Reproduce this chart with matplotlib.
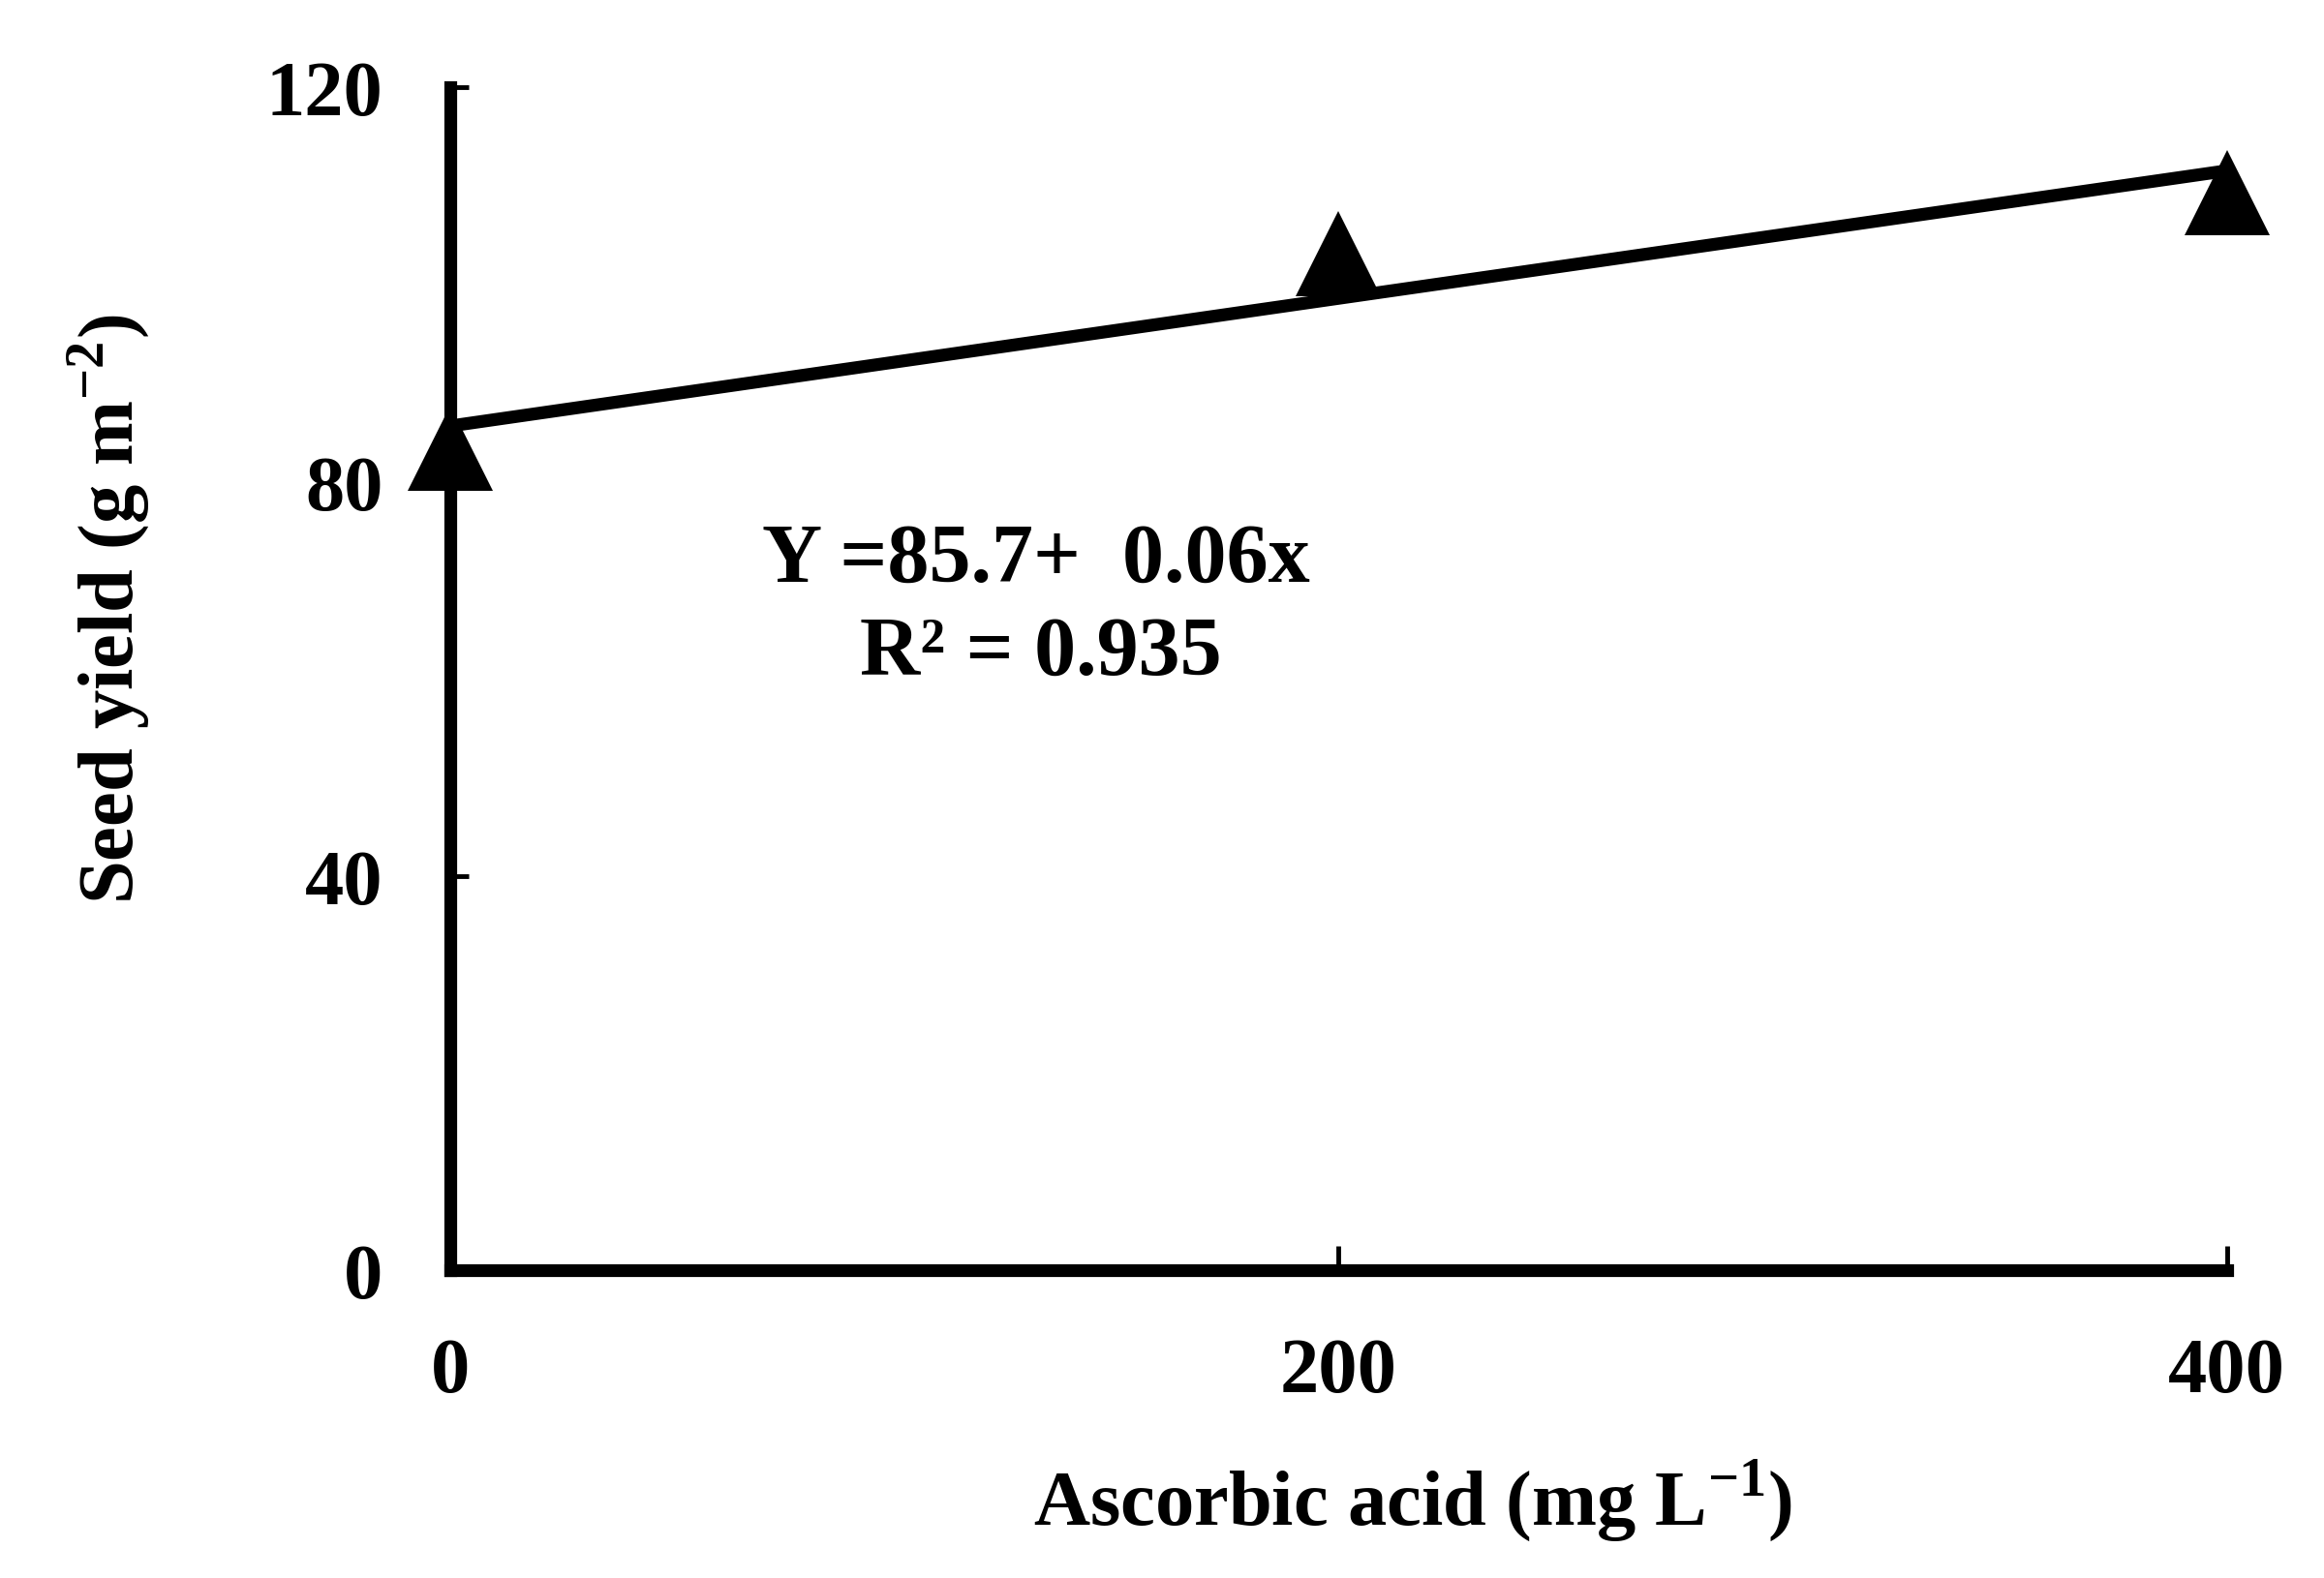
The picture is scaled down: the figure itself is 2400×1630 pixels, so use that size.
import matplotlib
matplotlib.use("Agg")
import matplotlib.pyplot as plt
import numpy as np

# data
ascorbic = [0, 200, 400]
seed_yield = [83.4, 103.1, 109.3]
x_ticks = [0, 200, 400]
y_ticks = [0, 40, 80, 120]
eq_text = "Y =85.7+  0.06x"
r2_text = "R\u00b2 = 0.935"

plt.rcParams['font.family'] = ['Liberation Serif', 'DejaVu Serif']
plt.rcParams['font.weight'] = 'bold'
plt.rcParams['mathtext.fontset'] = 'custom'
plt.rcParams['mathtext.rm'] = 'Liberation Serif:bold'
plt.rcParams['mathtext.bf'] = 'Liberation Serif:bold'

fig = plt.figure(figsize=(24, 16.31), dpi=100)
ax = fig.add_axes([0.1937, 0.195, 0.7645, 0.749])

# linear trend line
coef = np.polyfit(ascorbic, seed_yield, 1)
xs = np.array([0, 400])
ax.plot(xs, np.polyval(coef, xs), color='black', lw=9.5, solid_capstyle='butt',
        clip_on=False, zorder=3)
ax.plot(ascorbic, seed_yield, linestyle='none', marker='^', color='black',
        markersize=63, markeredgewidth=0, clip_on=False, zorder=4)

ax.set_xlim(0, 400)
ax.set_ylim(0, 120)
ax.set_xticks(x_ticks)
ax.set_yticks(y_ticks)
for s in ['top', 'right']:
    ax.spines[s].set_visible(False)
for s in ['left', 'bottom']:
    ax.spines[s].set_linewidth(9.5)
    ax.spines[s].set_capstyle('projecting')

ax.tick_params(axis='y', direction='in', length=14, width=3.5, pad=50, labelsize=58)
ax.tick_params(axis='x', direction='in', length=18, width=3.5, pad=50, labelsize=58)
for lab in ax.get_xticklabels() + ax.get_yticklabels():
    lab.set_fontweight('bold')

ax.set_xlabel(r'Ascorbic acid (mg L$^{-1}$)', fontsize=58, fontweight='bold')
ax.set_ylabel(r'Seed yield (g m$^{-2}$)', fontsize=58, fontweight='bold')
ax.xaxis.set_label_coords(0.542, -0.158)
ax.yaxis.set_label_coords(-0.168, 0.56)

ax.text(132, 72, eq_text, ha='center', va='center', fontsize=62, fontweight='bold')
ax.text(133, 62.5, r2_text, ha='center', va='center', fontsize=62, fontweight='bold')

fig.savefig('out.png', dpi=100)
